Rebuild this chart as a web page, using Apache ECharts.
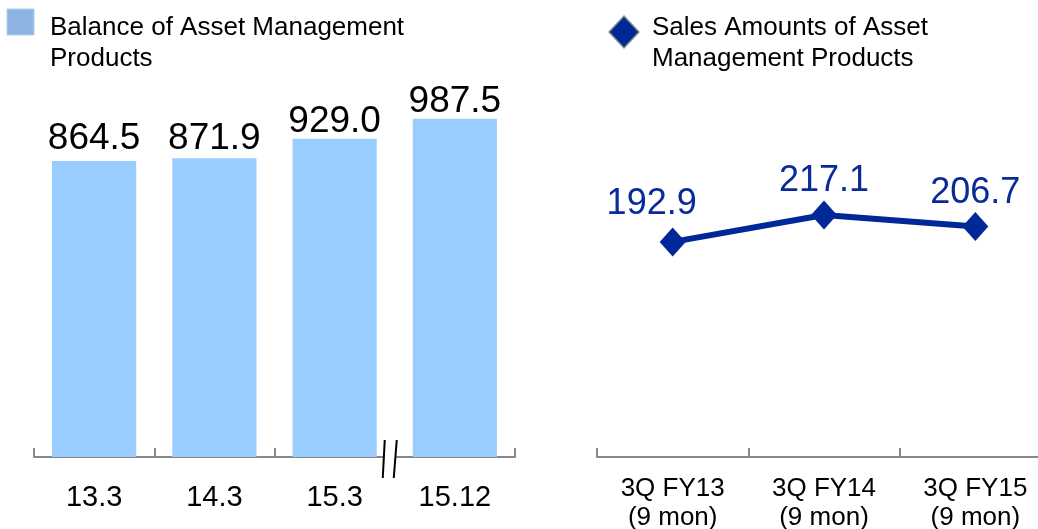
<!DOCTYPE html>
<html>
<head>
<meta charset="utf-8">
<script src="https://cdn.jsdelivr.net/npm/echarts@6/dist/echarts.min.js"></script>
<style>
  html, body { margin: 0; padding: 0; background: #fff; }
  #main { width: 1038px; height: 529px; }
</style>
</head>
<body>
<div id="main"></div>
<script>
// balance (bars, left panel)
var balanceCategories = ['13.3', '14.3', '15.3', '15.12'];
var balanceValues = [864.5, 871.9, 929.0, 987.5];
// sales (line, right panel)
var salesCategories = ['3Q FY13\n(9 mon)', '3Q FY14\n(9 mon)', '3Q FY15\n(9 mon)'];
var salesValues = [192.9, 217.1, 206.7];

var FONT = 'Liberation Sans, Arial, sans-serif';
var chart = echarts.init(document.getElementById('main'));

// small nudges so labels sit like in the slide
var barLabelOffsets = [[0, -4], [0, -1], [0, 1], [0, 2]];
var lineLabelOffsets = [[-21, -3], [0, 1], [0, 1]];

var option = {
  animation: false,
  grid: [
    { left: 34, top: 46, width: 481, height: 411, outerBoundsMode: 'none' },
    { left: 597, top: 11, width: 454, height: 446, outerBoundsMode: 'none' }
  ],
  xAxis: [{
    gridIndex: 0,
    type: 'category',
    data: balanceCategories,
    axisLine: { lineStyle: { color: '#888', width: 2 } },
    axisTick: { show: true, inside: true, length: 9, lineStyle: { color: '#888', width: 2 } },
    axisLabel: { color: '#000', fontSize: 29, fontFamily: FONT, margin: 26 }
  }, {
    gridIndex: 1,
    type: 'category',
    data: salesCategories,
    axisLine: { lineStyle: { color: '#888', width: 2 } },
    axisTick: { show: true, inside: true, length: 9, lineStyle: { color: '#888', width: 2 } },
    axisLabel: { color: '#000', fontSize: 26, lineHeight: 29, fontFamily: FONT, margin: 17 }
  }],
  yAxis: [
    { gridIndex: 0, type: 'value', min: 0, max: 1200, show: false, splitLine: { show: false } },
    { gridIndex: 1, type: 'value', min: 0, max: 400, show: false, splitLine: { show: false } }
  ],
  series: [{
    name: 'Balance of Asset Management Products',
    type: 'bar',
    xAxisIndex: 0,
    yAxisIndex: 0,
    barCategoryGap: '30%',
    itemStyle: { color: '#99CCFF' },
    data: balanceValues.map(function (v, i) {
      return { value: v, label: { offset: barLabelOffsets[i] } };
    }),
    label: {
      show: true,
      position: 'top',
      distance: 0,
      color: '#000',
      fontSize: 37,
      fontFamily: FONT,
      formatter: function (p) { return p.value.toFixed(1); }
    }
  }, {
    name: 'Sales Amounts of Asset Management Products',
    type: 'line',
    xAxisIndex: 1,
    yAxisIndex: 1,
    symbol: 'diamond',
    symbolSize: [26, 29],
    lineStyle: { color: '#002899', width: 6 },
    itemStyle: { color: '#002899' },
    data: salesValues.map(function (v, i) {
      return { value: v, label: { offset: lineLabelOffsets[i] } };
    }),
    label: {
      show: true,
      position: 'top',
      distance: 2,
      color: '#0A2A9A',
      fontSize: 36,
      fontFamily: FONT,
      formatter: function (p) { return p.value.toFixed(1); }
    }
  }]
};
chart.setOption(option);

// axis break mark between 15.3 and 15.12, and the two legend keys
var p2 = chart.convertToPixel({ xAxisIndex: 0 }, 2);
var p3 = chart.convertToPixel({ xAxisIndex: 0 }, 3);
var bx = (p2 + p3) / 2;
var by = chart.convertToPixel({ yAxisIndex: 0 }, 0);

chart.setOption({
  graphic: [
    { type: 'rect', shape: { x: bx - 10, y: by - 11, width: 11, height: 15 }, style: { fill: '#fff' }, z: 100 },
    { type: 'line', shape: { x1: bx - 10, y1: by - 17, x2: bx - 12, y2: by + 21 }, style: { stroke: '#000', lineWidth: 2 }, z: 101 },
    { type: 'line', shape: { x1: bx + 2, y1: by - 17, x2: bx - 1, y2: by + 21 }, style: { stroke: '#000', lineWidth: 2 }, z: 101 },
    // legend: balance
    { type: 'rect', shape: { x: 7, y: 9, width: 27, height: 26 }, style: { fill: '#8DB4E2', stroke: '#B3CEEC', lineWidth: 1 } },
    { type: 'text', left: 50, top: 12, style: { text: 'Balance of Asset Management\nProducts', font: '26px ' + FONT, lineHeight: 31, fill: '#000' } },
    // legend: sales
    { type: 'polygon', shape: { points: [[624, 16], [639, 32], [624, 48], [609, 32]] }, style: { fill: '#002899', stroke: '#8A8A8A', lineWidth: 1.5 } },
    { type: 'text', left: 652, top: 12, style: { text: 'Sales Amounts of Asset\nManagement Products', font: '26px ' + FONT, lineHeight: 31, fill: '#000' } }
  ]
});
</script>
</body>
</html>
